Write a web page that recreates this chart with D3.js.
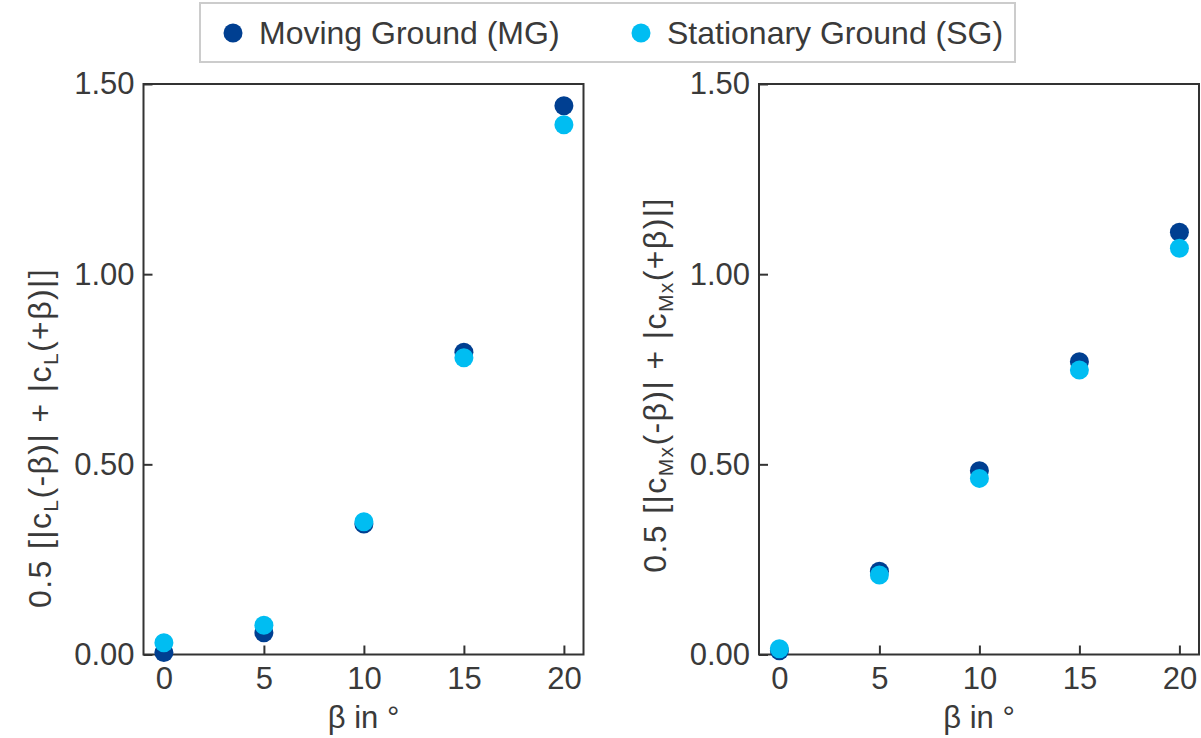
<!DOCTYPE html>
<html><head><meta charset="utf-8">
<script src="https://cdn.jsdelivr.net/npm/d3@7"></script>
<style>
html,body{margin:0;padding:0;background:#fff;}
svg text{font-family:"Liberation Sans",Arial,sans-serif;fill:#3a3a3a;}
</style></head>
<body><svg id="c" width="1201" height="738"></svg>
<script>
const beta = [0, 5, 10, 15, 20];
const xTicks = [0, 5, 10, 15, 20];
const yTicks = [0, 0.5, 1.0, 1.5];
const seriesNames = ["Moving Ground (MG)", "Stationary Ground (SG)"];
const mgLift = [0.005, 0.057, 0.343, 0.795, 1.443];
const sgLift = [0.031, 0.077, 0.349, 0.780, 1.393];
const mgRoll = [0.010, 0.219, 0.483, 0.770, 1.110];
const sgRoll = [0.015, 0.209, 0.463, 0.748, 1.068];
const colors = ["#003F91", "#00BDF2"];

const svg = d3.select("#c");
const fs = 31;

function panel(x0, yLabelX, yLabelY, sub, mg, sg) {
  const x = d3.scaleLinear().domain([-1.02, 20.98]).range([x0, x0 + 440]);
  const y = d3.scaleLinear().domain([0, 1.5]).range([654.5, 84]);
  const g = svg.append("g");
  g.append("rect").attr("x", x0).attr("y", 84).attr("width", 440).attr("height", 570.5)
    .attr("fill", "none").attr("stroke", "#333").attr("stroke-width", 2);
  const xa = g.append("g").attr("transform", `translate(0,654.5)`)
    .call(d3.axisBottom(x).tickValues(xTicks).tickSize(-9).tickPadding(12).tickFormat(d3.format("d")));
  const ya = g.append("g").attr("transform", `translate(${x0},0)`)
    .call(d3.axisLeft(y).tickValues(yTicks).tickSize(-9).tickPadding(9).tickFormat(d3.format(".2f")));
  [xa, ya].forEach(a => {
    a.select(".domain").remove();
    a.selectAll(".tick line").attr("stroke", "#333").attr("stroke-width", 2);
    a.selectAll(".tick text").attr("font-size", fs).attr("fill", "#3a3a3a")
      .style("font-family", '"Liberation Sans",Arial,sans-serif');
  });
  xa.selectAll(".tick text").attr("dy", "0.71em");
  g.append("text").attr("x", x0 + 220).attr("y", 728).attr("text-anchor", "middle")
    .attr("font-size", fs).text("β in °");
  const t = g.append("text").attr("transform", `translate(${yLabelX},${yLabelY}) rotate(-90)`)
    .attr("text-anchor", "middle").attr("font-size", 32).style("letter-spacing", "1.4px");
  t.append("tspan").text("0.5 [|c");
  t.append("tspan").attr("font-size", 21).attr("dy", 7).text(sub);
  t.append("tspan").attr("dy", -7).text("(-β)| + |c");
  t.append("tspan").attr("font-size", 21).attr("dy", 7).text(sub);
  t.append("tspan").attr("dy", -7).text("(+β)|]");
  [mg, sg].forEach((vals, i) => {
    g.append("g").selectAll("circle").data(vals).join("circle")
      .attr("cx", (d, j) => x(beta[j])).attr("cy", d => y(d)).attr("r", 9.5)
      .attr("fill", colors[i]);
  });
}

panel(143.5, 51, 438, "L", mgLift, sgLift);
panel(759, 666, 385, "Mx", mgRoll, sgRoll);

const lg = svg.append("g");
lg.append("rect").attr("x", 200).attr("y", 3).attr("width", 815).attr("height", 59)
  .attr("fill", "#fff").attr("stroke", "#ccc").attr("stroke-width", 2);
const lx = [233, 641];
seriesNames.forEach((n, i) => {
  lg.append("circle").attr("cx", lx[i]).attr("cy", 33).attr("r", 9.5).attr("fill", colors[i]);
  lg.append("text").attr("x", lx[i] + 26).attr("y", 44).attr("font-size", 32).text(n);
});
</script></body></html>
